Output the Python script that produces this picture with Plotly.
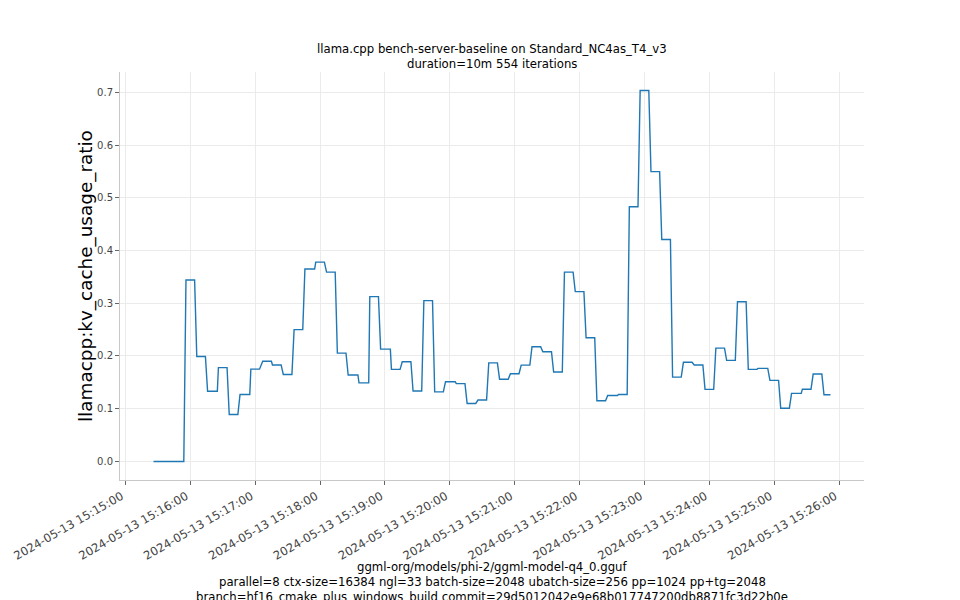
import plotly.graph_objects as go

times = [
    "2024-05-13 15:15:26", "2024-05-13 15:15:54", "2024-05-13 15:15:56", "2024-05-13 15:16:04",
    "2024-05-13 15:16:06", "2024-05-13 15:16:14", "2024-05-13 15:16:16", "2024-05-13 15:16:25",
    "2024-05-13 15:16:26", "2024-05-13 15:16:34", "2024-05-13 15:16:36", "2024-05-13 15:16:44",
    "2024-05-13 15:16:46", "2024-05-13 15:16:55", "2024-05-13 15:16:56", "2024-05-13 15:17:04",
    "2024-05-13 15:17:07", "2024-05-13 15:17:15", "2024-05-13 15:17:16", "2024-05-13 15:17:24",
    "2024-05-13 15:17:26", "2024-05-13 15:17:34", "2024-05-13 15:17:36", "2024-05-13 15:17:44",
    "2024-05-13 15:17:46", "2024-05-13 15:17:55", "2024-05-13 15:17:56", "2024-05-13 15:18:04",
    "2024-05-13 15:18:06", "2024-05-13 15:18:14", "2024-05-13 15:18:16", "2024-05-13 15:18:24",
    "2024-05-13 15:18:26", "2024-05-13 15:18:35", "2024-05-13 15:18:36", "2024-05-13 15:18:45",
    "2024-05-13 15:18:46", "2024-05-13 15:18:54", "2024-05-13 15:18:56", "2024-05-13 15:19:05",
    "2024-05-13 15:19:06", "2024-05-13 15:19:14", "2024-05-13 15:19:16", "2024-05-13 15:19:24",
    "2024-05-13 15:19:26", "2024-05-13 15:19:34", "2024-05-13 15:19:36", "2024-05-13 15:19:44",
    "2024-05-13 15:19:46", "2024-05-13 15:19:54", "2024-05-13 15:19:56", "2024-05-13 15:20:05",
    "2024-05-13 15:20:06", "2024-05-13 15:20:14", "2024-05-13 15:20:16", "2024-05-13 15:20:24",
    "2024-05-13 15:20:26", "2024-05-13 15:20:34", "2024-05-13 15:20:36", "2024-05-13 15:20:44",
    "2024-05-13 15:20:46", "2024-05-13 15:20:54", "2024-05-13 15:20:56", "2024-05-13 15:21:04",
    "2024-05-13 15:21:06", "2024-05-13 15:21:14", "2024-05-13 15:21:16", "2024-05-13 15:21:24",
    "2024-05-13 15:21:26", "2024-05-13 15:21:34", "2024-05-13 15:21:36", "2024-05-13 15:21:44",
    "2024-05-13 15:21:46", "2024-05-13 15:21:54", "2024-05-13 15:21:56", "2024-05-13 15:22:04",
    "2024-05-13 15:22:06", "2024-05-13 15:22:14", "2024-05-13 15:22:16", "2024-05-13 15:22:24",
    "2024-05-13 15:22:26", "2024-05-13 15:22:35", "2024-05-13 15:22:36", "2024-05-13 15:22:44",
    "2024-05-13 15:22:46", "2024-05-13 15:22:54", "2024-05-13 15:22:56", "2024-05-13 15:23:04",
    "2024-05-13 15:23:06", "2024-05-13 15:23:14", "2024-05-13 15:23:16", "2024-05-13 15:23:24",
    "2024-05-13 15:23:26", "2024-05-13 15:23:34", "2024-05-13 15:23:36", "2024-05-13 15:23:44",
    "2024-05-13 15:23:46", "2024-05-13 15:23:54", "2024-05-13 15:23:56", "2024-05-13 15:24:04",
    "2024-05-13 15:24:06", "2024-05-13 15:24:14", "2024-05-13 15:24:16", "2024-05-13 15:24:24",
    "2024-05-13 15:24:26", "2024-05-13 15:24:34", "2024-05-13 15:24:36", "2024-05-13 15:24:44",
    "2024-05-13 15:24:45", "2024-05-13 15:24:54", "2024-05-13 15:24:56", "2024-05-13 15:25:04",
    "2024-05-13 15:25:06", "2024-05-13 15:25:14", "2024-05-13 15:25:16", "2024-05-13 15:25:25",
    "2024-05-13 15:25:26", "2024-05-13 15:25:34", "2024-05-13 15:25:36", "2024-05-13 15:25:44",
    "2024-05-13 15:25:46", "2024-05-13 15:25:52",
]

kv_cache_usage = [
    0.0, 0.0, 0.344, 0.344,
    0.199, 0.199, 0.133, 0.133,
    0.178, 0.178, 0.089, 0.089,
    0.127, 0.127, 0.175, 0.175,
    0.190, 0.190, 0.183, 0.183,
    0.165, 0.165, 0.250, 0.250,
    0.365, 0.365, 0.378, 0.378,
    0.359, 0.359, 0.2055, 0.2055,
    0.164, 0.164, 0.149, 0.149,
    0.3125, 0.3125, 0.213, 0.213,
    0.1746, 0.1746, 0.189, 0.189,
    0.1335, 0.1335, 0.305, 0.305,
    0.132, 0.132, 0.151, 0.151,
    0.1475, 0.1475, 0.110, 0.110,
    0.1164, 0.1164, 0.187, 0.187,
    0.156, 0.156, 0.1664, 0.1664,
    0.1827, 0.1827, 0.2176, 0.2176,
    0.208, 0.208, 0.1695, 0.1695,
    0.359, 0.359, 0.322, 0.322,
    0.2347, 0.2347, 0.115, 0.115,
    0.125, 0.125, 0.127, 0.127,
    0.483, 0.483, 0.7034, 0.7034,
    0.5496, 0.5496, 0.421, 0.421,
    0.160, 0.160, 0.188, 0.188,
    0.183, 0.183, 0.1366, 0.1366,
    0.215, 0.215, 0.1917, 0.1917,
    0.303, 0.303, 0.1746, 0.1746,
    0.1765, 0.1765, 0.1537, 0.1537,
    0.101, 0.101, 0.129, 0.129,
    0.137, 0.137, 0.1657, 0.1657,
    0.1265, 0.1265,
]

title_lines = [
    "llama.cpp bench-server-baseline on Standard_NC4as_T4_v3",
    "duration=10m 554 iterations",
]
footer_lines = [
    "ggml-org/models/phi-2/ggml-model-q4_0.gguf",
    "parallel=8 ctx-size=16384 ngl=33 batch-size=2048 ubatch-size=256 pp=1024 pp+tg=2048",
    "branch=hf16_cmake_plus_windows_build commit=29d5012042e9e68b017747200db8871fc3d22b0e",
]
y_label = "llamacpp:kv_cache_usage_ratio"

FONT = "DejaVu Sans"
TXT = 11.7

fig = go.Figure()
fig.add_trace(go.Scatter(
    x=times, y=kv_cache_usage, mode="lines",
    line=dict(color="#1f77b4", width=1.4),
    showlegend=False,
))

fig.update_layout(
    width=960, height=600,
    margin=dict(l=120, r=96, t=72, b=120),
    paper_bgcolor="white", plot_bgcolor="white",
    font=dict(family=FONT, color="#333"),
)

fig.update_xaxes(
    type="date", automargin=False,
    range=["2024-05-13 15:14:55", "2024-05-13 15:26:23"],
    tick0="2024-05-13 15:15:00", dtick=60000,
    tickformat="%Y-%m-%d %H:%M:%S",
    tickangle=-30, ticklabelshift=-4,
    tickfont=dict(family=FONT, size=TXT, color="#444"),
    ticks="outside", ticklen=4, tickcolor="#666",
    showgrid=True, gridcolor="#ebebeb", gridwidth=1,
    showline=True, linecolor="#c8c8c8", linewidth=1,
    zeroline=False,
)
fig.update_yaxes(
    automargin=False,
    range=[-0.0352, 0.7386],
    tick0=0, dtick=0.1, tickformat=".1f",
    tickfont=dict(family=FONT, size=10, color="#444"),
    ticks="outside", ticklen=4, tickcolor="#666",
    showgrid=True, gridcolor="#ebebeb", gridwidth=1,
    showline=True, linecolor="#c8c8c8", linewidth=1,
    zeroline=False,
)

# title lines above the plot
for text, shift in zip(title_lines, [23, 8]):
    fig.add_annotation(
        text=text, xref="paper", yref="paper", x=0.5, y=1,
        xanchor="center", yanchor="middle", yshift=shift,
        showarrow=False, font=dict(family=FONT, size=TXT, color="#000"),
    )

# footer lines below the x tick labels
for text, shift in zip(footer_lines, [-87, -102, -117]):
    fig.add_annotation(
        text=text, xref="paper", yref="paper", x=0.5, y=0,
        xanchor="center", yanchor="middle", yshift=shift,
        showarrow=False, font=dict(family=FONT, size=TXT, color="#000"),
    )

# y-axis label
fig.add_annotation(
    text=y_label, xref="paper", yref="paper", x=0, y=0.5,
    xanchor="center", yanchor="middle", xshift=-34, textangle=-90,
    showarrow=False, font=dict(family=FONT, size=18.4, color="#000"),
)

fig.write_html(
    "out.html",
    config={"displayModeBar": False},
    post_script="document.body.style.margin='0';",
)
